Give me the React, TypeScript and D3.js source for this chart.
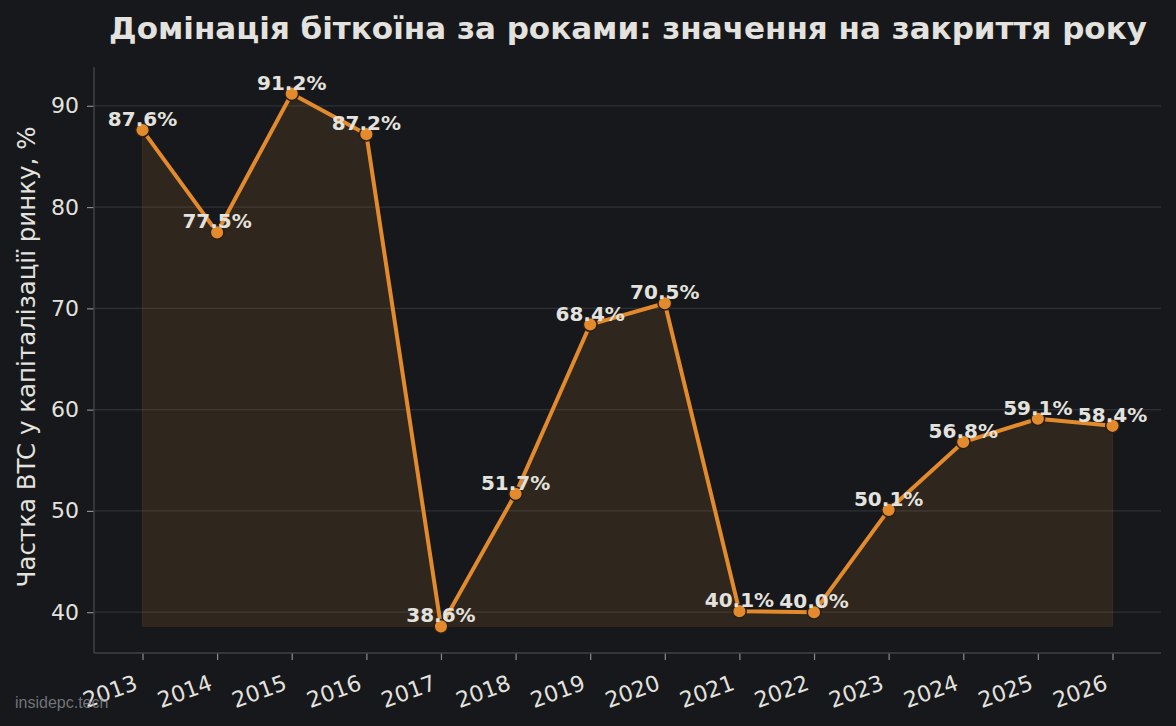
import * as d3 from 'd3';
import { useEffect, useRef } from 'react';

const years = [2013, 2014, 2015, 2016, 2017, 2018, 2019, 2020, 2021, 2022, 2023, 2024, 2025, 2026];
const dominance = [87.6, 77.5, 91.2, 87.2, 38.6, 51.7, 68.4, 70.5, 40.1, 40.0, 50.1, 56.8, 59.1, 58.4];
const yTicks = [40, 50, 60, 70, 80, 90];

const W = 1176;
const H = 726;
const BG = '#16181c';
const ORANGE = '#e38b2c';
const TEXT = '#e4e2de';

export default function App() {
    const svgRef = useRef<SVGSVGElement>(null);

    useEffect(() => {
        const svg = d3.select(svgRef.current);
        svg.selectAll('*').remove();

        const plot = { left: 94, right: 1161, top: 67, bottom: 653 };
        const minV = d3.min(dominance) as number;
        const maxV = d3.max(dominance) as number;
        const padY = (maxV - minV) * 0.05;
        const padX = (years[years.length - 1] - years[0]) * 0.05;

        const x = d3.scaleLinear()
            .domain([years[0] - padX, years[years.length - 1] + padX])
            .range([plot.left, plot.right]);
        const y = d3.scaleLinear()
            .domain([minV - padY, maxV + padY])
            .range([plot.bottom, plot.top]);

        svg.append('rect').attr('width', W).attr('height', H).attr('fill', BG);

        // grid
        svg.append('g')
            .selectAll('line')
            .data(yTicks)
            .enter()
            .append('line')
            .attr('x1', plot.left)
            .attr('x2', plot.right)
            .attr('y1', (d) => y(d))
            .attr('y2', (d) => y(d))
            .attr('stroke', '#2d3035')
            .attr('stroke-width', 1.2);

        // area down to the minimum
        const area = d3.area<number>()
            .x((_, i) => x(years[i]))
            .y0(y(minV))
            .y1((d) => y(d));
        svg.append('path')
            .datum(dominance)
            .attr('d', area)
            .attr('fill', ORANGE)
            .attr('fill-opacity', 0.12)
            .attr('stroke', ORANGE)
            .attr('stroke-opacity', 0.12)
            .attr('stroke-width', 1);

        // y axis
        const yAxis = svg.append('g')
            .attr('transform', `translate(${plot.left},0)`)
            .call(d3.axisLeft(y).tickValues(yTicks).tickSize(7).tickPadding(8));
        yAxis.select('.domain').remove();
        yAxis.selectAll('line').attr('stroke', '#8a8c90').attr('stroke-width', 1.2);
        yAxis.selectAll('text')
            .attr('fill', TEXT)
            .style('font-family', 'DejaVu Sans')
            .style('font-size', '22px');

        // x axis
        const xAxis = svg.append('g')
            .attr('transform', `translate(0,${plot.bottom})`)
            .call(d3.axisBottom(x).tickValues(years).tickSize(7).tickFormat(d3.format('d')));
        xAxis.select('.domain').remove();
        xAxis.selectAll('line').attr('stroke', '#8a8c90').attr('stroke-width', 1.2);
        xAxis.selectAll('text')
            .attr('fill', TEXT)
            .attr('y', 0)
            .attr('dy', 0)
            .attr('text-anchor', 'end')
            .attr('transform', 'translate(-4,36) rotate(-20)')
            .style('font-family', 'DejaVu Sans')
            .style('font-size', '22px');

        // spines
        svg.append('line')
            .attr('x1', plot.left).attr('x2', plot.left)
            .attr('y1', plot.top).attr('y2', plot.bottom)
            .attr('stroke', '#3e4146').attr('stroke-width', 1.5);
        svg.append('line')
            .attr('x1', plot.left).attr('x2', plot.right)
            .attr('y1', plot.bottom).attr('y2', plot.bottom)
            .attr('stroke', '#3e4146').attr('stroke-width', 1.5);

        // line + markers
        const line = d3.line<number>()
            .x((_, i) => x(years[i]))
            .y((d) => y(d));
        svg.append('path')
            .datum(dominance)
            .attr('d', line)
            .attr('fill', 'none')
            .attr('stroke', ORANGE)
            .attr('stroke-width', 4)
            .attr('stroke-linejoin', 'round');

        svg.selectAll('.dot')
            .data(dominance)
            .enter()
            .append('circle')
            .attr('cx', (_, i) => x(years[i]))
            .attr('cy', (d) => y(d))
            .attr('r', 6.8)
            .attr('fill', ORANGE)
            .attr('stroke', '#2a1f14')
            .attr('stroke-width', 1.5);

        svg.selectAll('.val')
            .data(dominance)
            .enter()
            .append('text')
            .attr('x', (_, i) => x(years[i]))
            .attr('y', (d) => y(d) - 4)
            .attr('text-anchor', 'middle')
            .attr('fill', TEXT)
            .style('font-family', 'DejaVu Sans')
            .style('font-weight', 'bold')
            .style('font-size', '20px')
            .text((d) => `${d.toFixed(1)}%`);

        // title
        svg.append('text')
            .attr('x', 628)
            .attr('y', 39)
            .attr('text-anchor', 'middle')
            .attr('fill', TEXT)
            .style('font-family', 'DejaVu Sans')
            .style('font-weight', 'bold')
            .style('font-size', '31px')
            .text('Домінація біткоїна за роками: значення на закриття року');

        // y label
        svg.append('text')
            .attr('transform', `translate(35,${(plot.top + plot.bottom) / 2 - 3}) rotate(-90)`)
            .attr('text-anchor', 'middle')
            .attr('fill', TEXT)
            .style('font-family', 'DejaVu Sans')
            .style('font-size', '24.5px')
            .text('Частка BTC у капіталізації ринку, %');

        // watermark
        svg.append('text')
            .attr('x', 15)
            .attr('y', 708)
            .attr('fill', '#8b8d91')
            .attr('fill-opacity', 0.8)
            .style('font-family', 'Liberation Sans')
            .style('font-size', '16px')
            .text('insidepc.tech');
    }, []);

    return (
        <svg
            ref={svgRef}
            width={W}
            height={H}
            style={{ position: 'absolute', left: 0, top: 0, display: 'block' }}
        ></svg>
    );
}
